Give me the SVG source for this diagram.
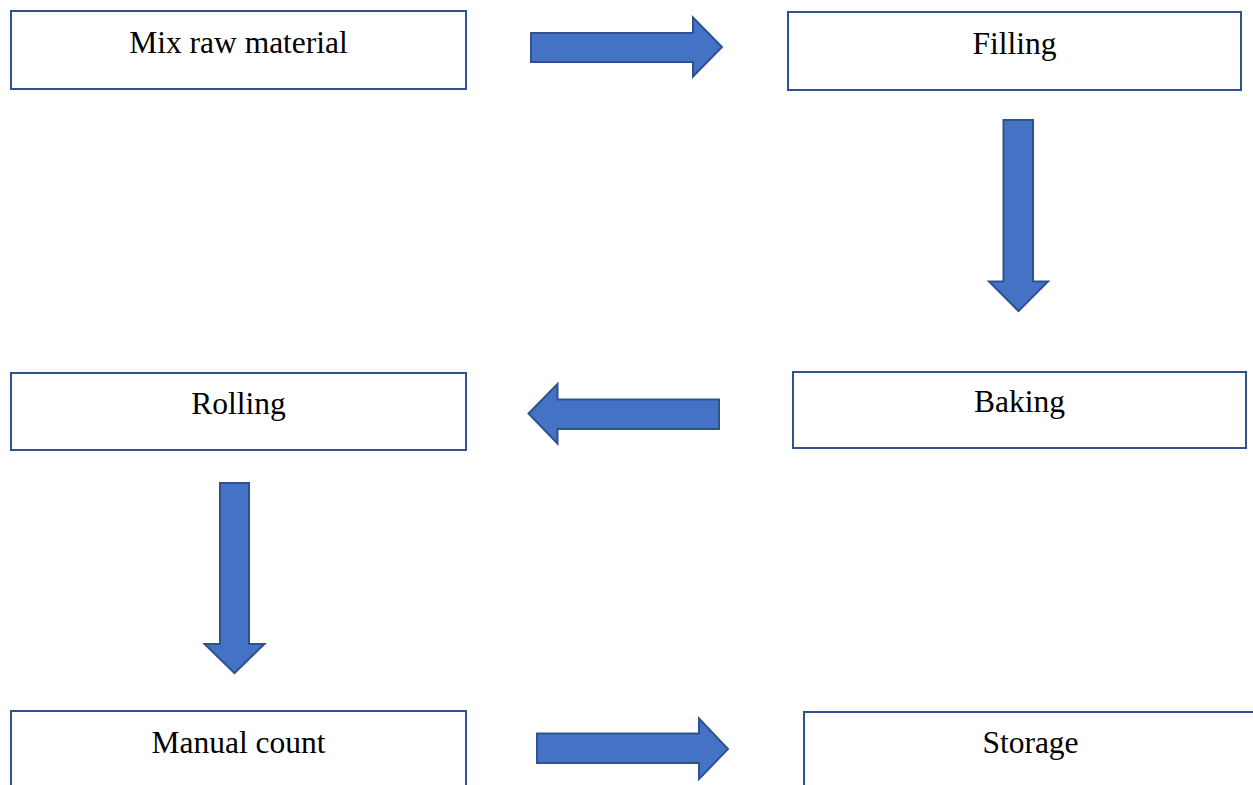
<svg xmlns="http://www.w3.org/2000/svg" width="1253" height="785" viewBox="0 0 1253 785">
  <style>
    .box { fill: #ffffff; stroke: #2F528F; stroke-width: 2; }
    .label { font-family: "Liberation Serif", "Times New Roman", serif; font-size: 31.5px; fill: #000000; text-anchor: middle; }
    .arrow { fill: #4472C4; stroke: #2F528F; stroke-width: 2; stroke-linejoin: miter; }
  </style>
  <rect width="1253" height="785" fill="#ffffff"/>

  <!-- process steps -->
  <g id="mix">
    <rect class="box" x="11" y="11" width="455" height="78"/>
    <text class="label" x="238.5" y="52.5">Mix raw material</text>
  </g>
  <g id="filling">
    <rect class="box" x="788" y="12" width="453" height="78"/>
    <text class="label" x="1014.5" y="53.5">Filling</text>
  </g>
  <g id="rolling">
    <rect class="box" x="11" y="373" width="455" height="77"/>
    <text class="label" x="238.5" y="413.5">Rolling</text>
  </g>
  <g id="baking">
    <rect class="box" x="793" y="372" width="453" height="76"/>
    <text class="label" x="1019.5" y="411.5">Baking</text>
  </g>
  <g id="manual-count">
    <rect class="box" x="11" y="711" width="455" height="90"/>
    <text class="label" x="238.5" y="752.5">Manual count</text>
  </g>
  <g id="storage">
    <rect class="box" x="804" y="712" width="460" height="90"/>
    <text class="label" x="1030.5" y="752.5">Storage</text>
  </g>

  <!-- block arrows between steps -->
  <g id="connectors">
    <polygon class="arrow" points="531,33 693,33 693,17.5 722,47 693,76.5 693,62 531,62"/>
    <polygon class="arrow" points="1003.5,120 1033,120 1033,281.5 1048,281.5 1018.5,311 989,281.5 1003.5,281.5"/>
    <polygon class="arrow" points="719,399.5 719,429 557.5,429 557.5,443.5 528.5,413.5 557.5,384 557.5,399.5"/>
    <polygon class="arrow" points="220,483 249,483 249,644 264.5,644 234.5,673 204.5,644 220,644"/>
    <polygon class="arrow" points="537,733.5 699,733.5 699,718.5 728,749 699,779 699,763 537,763"/>
  </g>
</svg>
